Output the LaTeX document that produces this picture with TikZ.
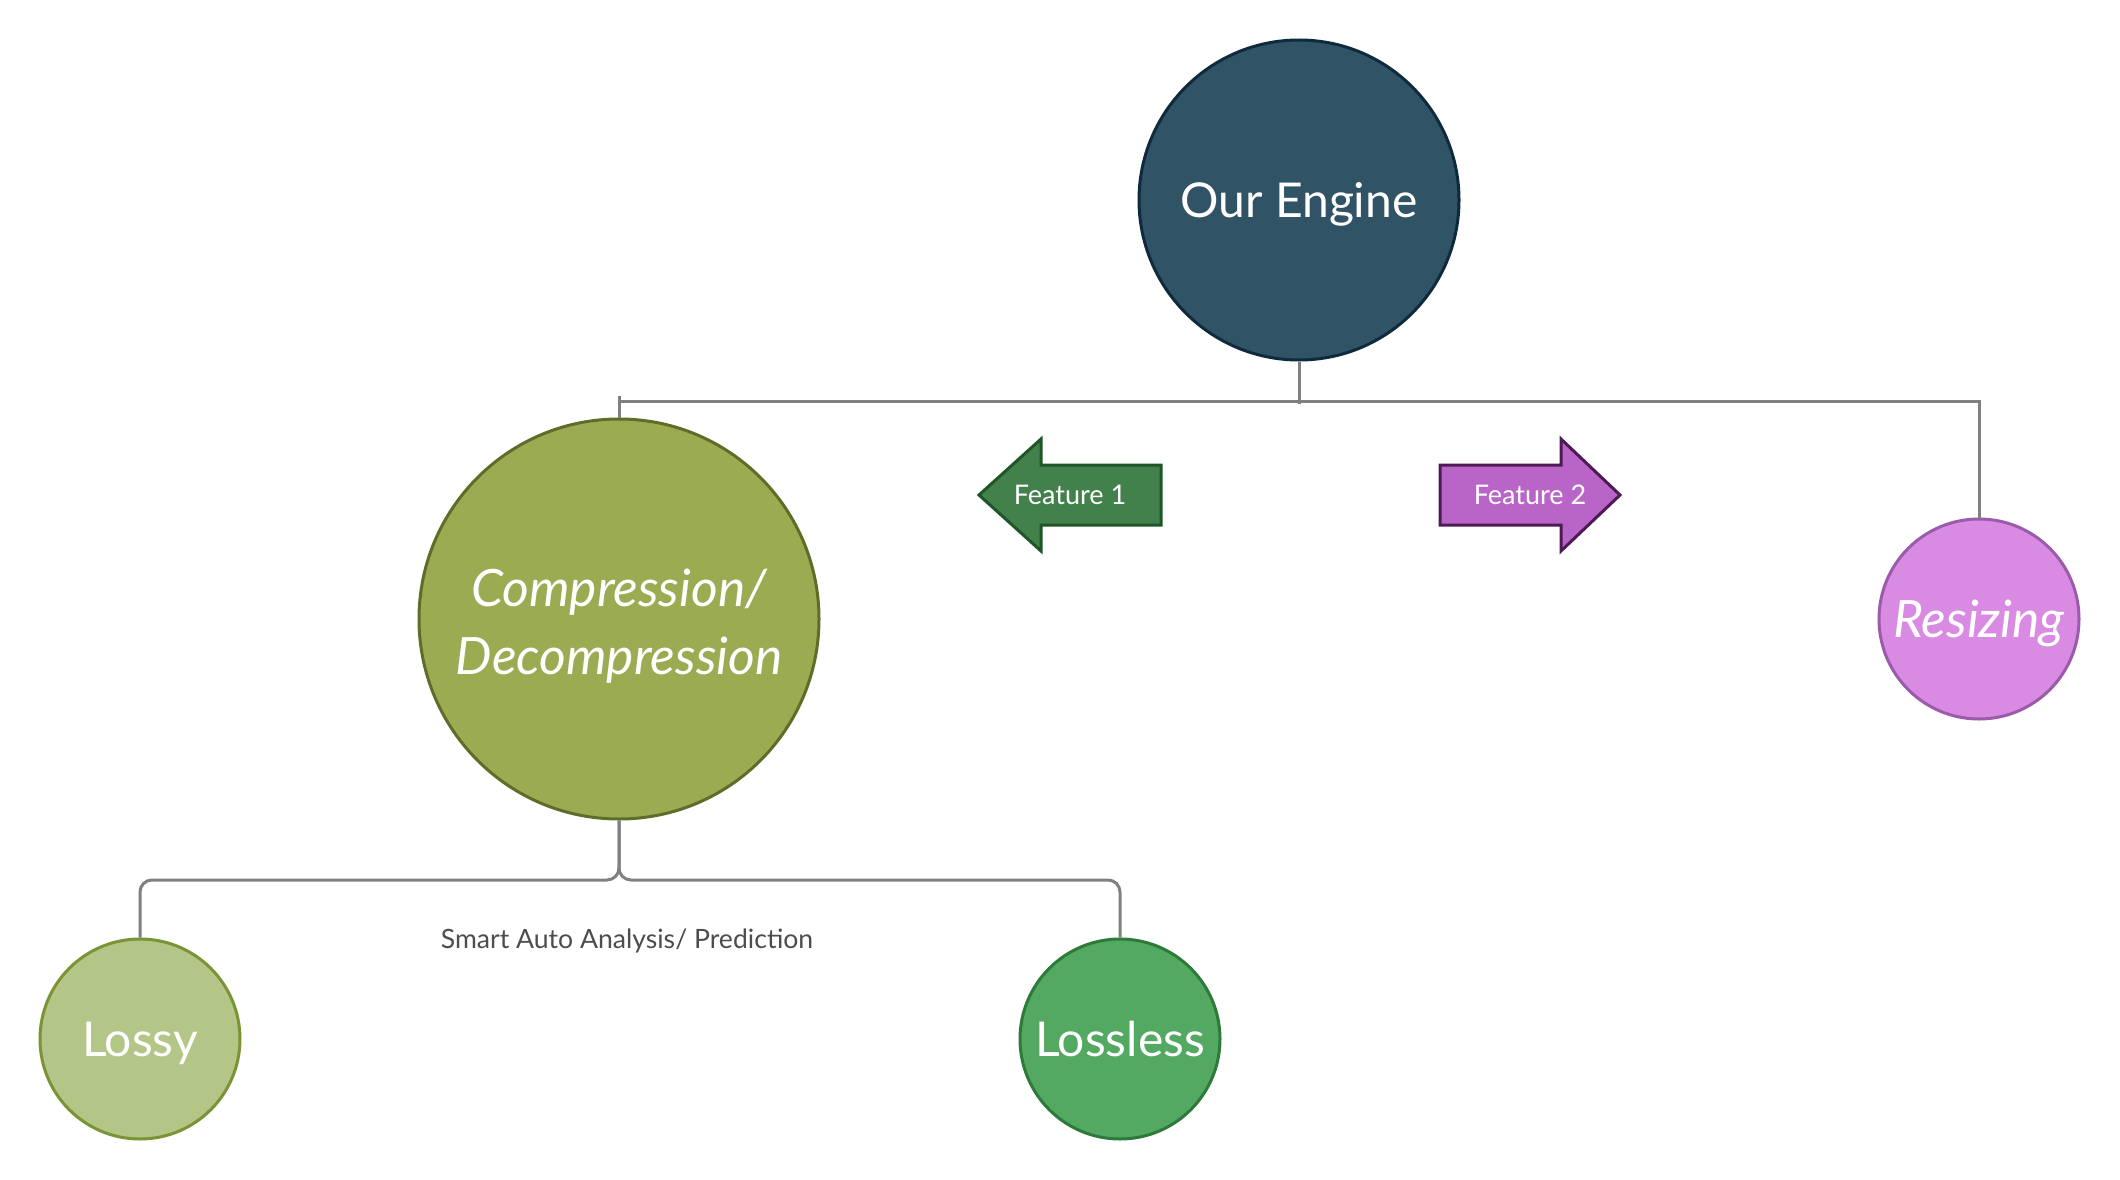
\documentclass[tikz,border=0pt]{standalone}
\usepackage{fontspec}
\setmainfont{Lato}
\usetikzlibrary{calc}
\definecolor{engfill}{HTML}{315366}
\definecolor{engdraw}{HTML}{0F2A3D}
\definecolor{compfill}{HTML}{9AAB52}
\definecolor{compdraw}{HTML}{5E6D28}
\definecolor{lossyfill}{HTML}{B3C687}
\definecolor{lossydraw}{HTML}{7A9435}
\definecolor{llfill}{HTML}{53A862}
\definecolor{lldraw}{HTML}{2D7A3A}
\definecolor{resfill}{HTML}{D98BE3}
\definecolor{resdraw}{HTML}{9B5AAA}
\definecolor{fonefill}{HTML}{42814B}
\definecolor{fonedraw}{HTML}{1F5527}
\definecolor{ftwofill}{HTML}{B965C8}
\definecolor{ftwodraw}{HTML}{4E1A56}
\definecolor{conncol}{HTML}{808080}
\definecolor{labcol}{HTML}{4D4D4D}
\tikzset{
  bubble/.style={circle, inner sep=0pt, line width=3pt, text=white, align=center,
    font=\fontsize{48}{68}\selectfont, text height=34.4pt, text depth=0pt},
  itbubble/.style={bubble, font=\fontsize{51.5}{68}\selectfont\itshape, text height=36.9pt},
  conn/.style={draw=conncol, line width=3pt},
  featarrow/.style={line width=3pt, line join=miter},
  feattext/.style={text=white, font=\fontsize{27}{30}\selectfont, inner sep=0pt}
}
\begin{document}
\begin{tikzpicture}[x=1pt,y=-1pt]
\useasboundingbox[fill=white] (0,0) rectangle (2120,1180);

% nodes
\node[bubble, fill=engfill, draw=engdraw, minimum size=320pt] (engine) at (1299,200) {Our Engine};
\node[circle, inner sep=0pt, line width=3pt, fill=compfill, draw=compdraw, minimum size=400pt] (comp) at (619,619) {};
\node[text=white, align=center, inner sep=0pt, font=\fontsize{51.5}{68}\selectfont\itshape, yshift=-7pt] (comptext) at (comp.center) {Compression/\\Decompression};
\node[itbubble, fill=resfill, draw=resdraw, minimum size=200pt] (res) at (1979,619) {Resizing};
\node[bubble, fill=lossyfill, draw=lossydraw, minimum size=200pt] (lossy) at (140,1039) {Lossy};
\node[bubble, fill=llfill, draw=lldraw, minimum size=200pt] (lossless) at (1120,1039) {Lossless};

% connectors top
\coordinate (busL) at (619,401);
\coordinate (busR) at (1979,401);
\coordinate (busM) at (1299,404);
\coordinate (tickL) at (619,396);
\draw[conn] (engine.south) -- (busM);
\draw[conn] (busL) -- (busR) -- (res.north);
\draw[conn] (tickL) -- (comp.north);

% connectors bottom
\coordinate (split) at (619,880);
\draw[conn, rounded corners=12pt] (comp.south) -- (split) -| (lossy.north);
\draw[conn, rounded corners=12pt] (comp.south) -- (split) -| (lossless.north);
\node[text=labcol, font=\fontsize{26.6}{30}\selectfont, inner sep=0pt] (smart) at (627,941) {Smart Auto Analysis/ Prediction};

% feature arrows
\draw[featarrow, fill=fonefill, draw=fonedraw]
  (979,495) -- (1041,439) -- (1041,465) -- (1161,465) -- (1161,525) -- (1041,525) -- (1041,551) -- cycle;
\node[feattext] (f1) at (1070,495) {Feature 1};
\draw[featarrow, fill=ftwofill, draw=ftwodraw]
  (1440,465) -- (1561,465) -- (1561,439) -- (1620,495) -- (1561,551) -- (1561,525) -- (1440,525) -- cycle;
\node[feattext] (f2) at (1530,495) {Feature 2};
\end{tikzpicture}
\end{document}
